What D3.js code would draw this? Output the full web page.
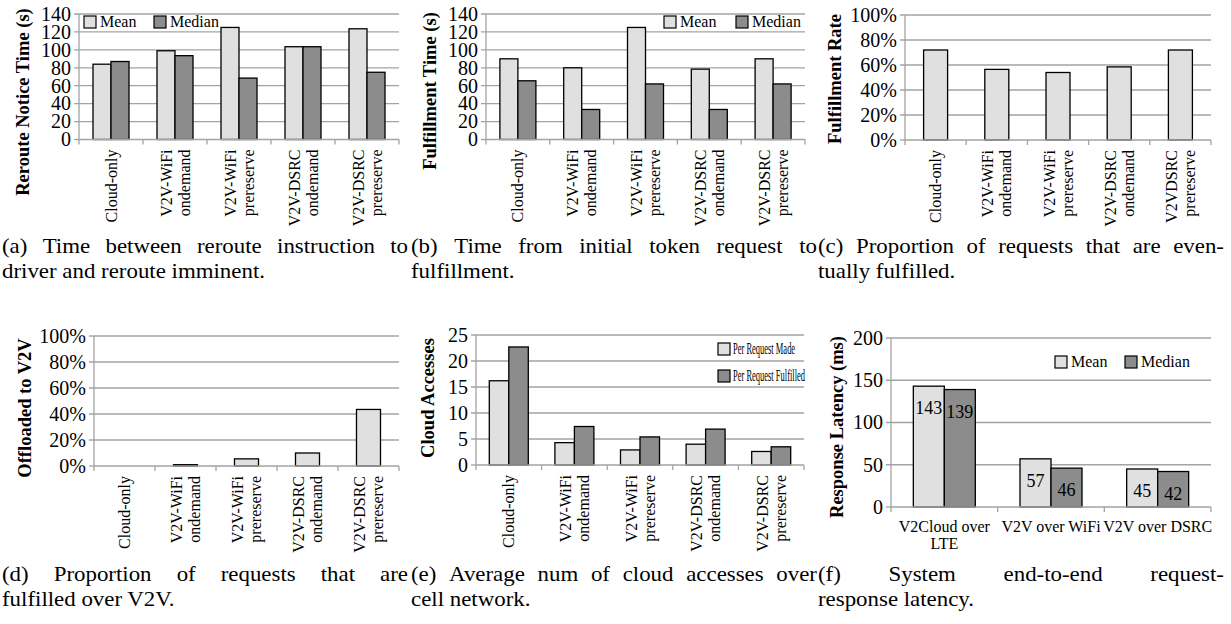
<!DOCTYPE html>
<html><head><meta charset="utf-8">
<script src="https://cdn.jsdelivr.net/npm/d3@7"></script>
<style>
html,body{margin:0;padding:0;background:#fff;}
svg{display:block;}
</style></head>
<body><svg id="fig" width="1231" height="624" font-family="'Liberation Serif', Tinos, 'Times New Roman', Times, 'DejaVu Serif', serif"></svg>
<script>
// ---------- data ----------
const schemes = [["Cloud-only"],["V2V-WiFi","ondemand"],["V2V-WiFi","prereserve"],["V2V-DSRC","ondemand"],["V2V-DSRC","prereserve"]];
const schemesC = [["Cloud-only"],["V2V-WiFi","ondemand"],["V2V-WiFi","prereserve"],["V2V-DSRC","ondemand"],["V2VDSRC","prereserve"]];
const rerouteMean   = [84, 99, 125, 103.5, 123.5];
const rerouteMedian = [87, 93.5, 68.5, 103.5, 75];
const fulfillMean   = [90, 80, 125, 78.5, 90];
const fulfillMedian = [65.5, 33.5, 62, 33.5, 62];
const fulfillRate   = [72, 56.5, 54, 58.5, 72];
const offloadedV2V  = [0, 1, 5.5, 10, 43.5];
const accessPerMade      = [16.2, 4.3, 2.9, 4.0, 2.6];
const accessPerFulfilled = [22.7, 7.4, 5.4, 6.9, 3.5];
const links = [["V2Cloud over","LTE"],["V2V over WiFi"],["V2V over DSRC"]];
const latencyMean   = [143, 57, 45];
const latencyMedian = [139, 46, 42];
const ticks140 = [0,20,40,60,80,100,120,140];
const ticksPct = [0,20,40,60,80,100];
const ticks25  = [0,5,10,15,20,25];
const ticks200 = [0,50,100,150,200];
const captions = [
  ["(a) Time between reroute instruction to","driver and reroute imminent."],
  ["(b) Time from initial token request to","fulfillment."],
  ["(c) Proportion of requests that are even-","tually fulfilled."],
  ["(d) Proportion of requests that are","fulfilled over V2V."],
  ["(e) Average num of cloud accesses over","cell network."],
  ["(f) System end-to-end request-","response latency."]
];
// ---------- styles ----------
const LIGHT = "#e0e0e0", DARK = "#8c8c8c", GRID = "#a3a3a3";
const svg = d3.select("#fig");

function txt(g, x, y, s, o={}){
  const sx = o.sx||1;
  let tr = `translate(${x},${y}) scale(${sx},1)`;
  if(o.rot) tr += ` rotate(${o.rot})`;
  const t = g.append("text").attr("transform",tr)
    .attr("font-size",o.fs||16).attr("text-anchor",o.anchor||"start").text(s);
  if(o.dy) t.attr("dy",o.dy);
  if(o.bold) t.attr("font-weight","bold");
  return t;
}

function panel(cfg){
  const g = svg.append("g");
  const y = d3.scaleLinear().domain([0, cfg.yMax]).range([cfg.yB, cfg.yT]);
  const x = d3.scaleBand().domain(d3.range(cfg.cats.length)).range([cfg.x0, cfg.x1]);
  const bw = x.bandwidth();
  const n = cfg.series.length, gw = n*cfg.barW;
  const xs = d3.scaleBand().domain(d3.range(n)).range([(bw-gw)/2, (bw+gw)/2]);
  g.selectAll(".grid").data(cfg.ticks.slice(1)).join("line")
    .attr("x1", cfg.x0-5).attr("x2", cfg.x1).attr("y1", d=>y(d)).attr("y2", d=>y(d))
    .attr("stroke", GRID).attr("stroke-width", 1.3);
  g.append("line").attr("x1",cfg.x0).attr("x2",cfg.x0).attr("y1",cfg.yT).attr("y2",cfg.yB)
    .attr("stroke",GRID).attr("stroke-width",1.3);
  g.append("line").attr("x1",cfg.x0-5).attr("x2",cfg.x0).attr("y1",cfg.yB).attr("y2",cfg.yB)
    .attr("stroke",GRID).attr("stroke-width",1.3);
  cfg.ticks.forEach(d=> txt(g, cfg.x0-8, y(d), cfg.pct ? d+"%" : String(d), {fs:20, anchor:"end", dy:"0.34em"}));
  cfg.series.forEach((s,si)=>{
    g.selectAll(".b"+si).data(s.values).join("rect")
      .attr("x",(d,i)=>x(i)+xs(si)).attr("width",xs.bandwidth())
      .attr("y",d=>y(d)).attr("height",d=>cfg.yB-y(d))
      .attr("fill",s.color).attr("stroke",d=>d>0?"#000":"none").attr("stroke-width",1.3);
    if(cfg.valueLabels){
      s.values.forEach((d,i)=> txt(g, x(i)+xs(si)+xs.bandwidth()/2, y(d)+22, String(d), {fs:18, anchor:"middle", dy:"0.34em"}));
    }
  });
  g.append("line").attr("x1",cfg.x0).attr("x2",cfg.x1).attr("y1",cfg.yB).attr("y2",cfg.yB)
    .attr("stroke",GRID).attr("stroke-width",1.3);
  const bounds = d3.range(cfg.cats.length+1).map(i=> i<cfg.cats.length ? x(i) : cfg.x1);
  g.selectAll(".xt").data(bounds).join("line")
    .attr("x1",d=>d).attr("x2",d=>d).attr("y1",cfg.yB).attr("y2",cfg.yB+5)
    .attr("stroke",GRID).attr("stroke-width",1.3);
  cfg.cats.forEach((lines,i)=>{
    const cx = x(i)+bw/2;
    if(cfg.horizontal){
      lines.forEach((t,li)=> txt(g, cx, cfg.yB+25+li*17, t, {fs:16, anchor:"middle"}));
    } else {
      const off = lines.length===1 ? [0] : [-9, 9];
      lines.forEach((t,li)=> txt(g, cx+off[li]+5.5, cfg.yB+10, t, {fs:16, anchor:"end", rot:-90}));
    }
  });
  txt(g, cfg.titleX, cfg.titleY, cfg.title, {fs:18.5, anchor:"middle", dy:"0.34em", bold:true, rot:-90});
  if(cfg.legend){
    cfg.legend.forEach((L,li)=>{
      const s = cfg.series[li];
      g.append("rect").attr("x",L[0]).attr("y",L[1]).attr("width",12).attr("height",12)
        .attr("fill",s.color).attr("stroke","#000").attr("stroke-width",1.2);
      txt(g, L[0]+(cfg.legGap||16), L[1]+6, s.name, {fs:cfg.legFs||16, sx:cfg.legSx||1, dy:"0.34em"});
    });
  }
}

panel({x0:79,x1:399,yT:14,yB:139.5,yMax:140,ticks:ticks140,cats:schemes,barW:18,
  series:[{name:"Mean",values:rerouteMean,color:LIGHT},{name:"Median",values:rerouteMedian,color:DARK}],
  title:"Reroute Notice Time (s)",titleX:23,titleY:102,legend:[[84,16],[154,16]]});
panel({x0:486,x1:805,yT:14,yB:139.5,yMax:140,ticks:ticks140,cats:schemes,barW:18,
  series:[{name:"Mean",values:fulfillMean,color:LIGHT},{name:"Median",values:fulfillMedian,color:DARK}],
  title:"Fulfillment Time (s)",titleX:430,titleY:91,legend:[[664,16],[736,16]]});
panel({x0:905,x1:1211,yT:15,yB:140,yMax:100,ticks:ticksPct,pct:true,cats:schemesC,barW:24,
  series:[{name:"Rate",values:fulfillRate,color:LIGHT}],
  title:"Fulfillment Rate",titleX:835,titleY:79});
panel({x0:94,x1:399,yT:336,yB:466,yMax:100,ticks:ticksPct,pct:true,cats:schemes,barW:24,
  series:[{name:"Offloaded",values:offloadedV2V,color:LIGHT}],
  title:"Offloaded to V2V",titleX:25,titleY:408});
panel({x0:476,x1:804,yT:335,yB:465,yMax:25,ticks:ticks25,cats:schemes,barW:19.5,
  series:[{name:"Per Request Made",values:accessPerMade,color:LIGHT},{name:"Per Request Fulfilled",values:accessPerFulfilled,color:DARK}],
  title:"Cloud Accesses",titleX:428,titleY:398,legend:[[718,343],[718,370]],legFs:16,legSx:0.53,legGap:15});
panel({x0:891,x1:1211,yT:338,yB:507,yMax:200,ticks:ticks200,cats:links,barW:31,horizontal:true,valueLabels:true,
  series:[{name:"Mean",values:latencyMean,color:LIGHT},{name:"Median",values:latencyMedian,color:DARK}],
  title:"Response Latency (ms)",titleX:837,titleY:427,legend:[[1055,356],[1125,356]]});

// ---------- captions (first line justified) ----------
const capPos = [[2,253],[411,253],[818,253],[2,581],[411,581],[818,581]];
const COLW = 406, LH = 24.5, CFS = 22, CSX = 1.04;
captions.forEach((lines,ci)=>{
  const [cx,cy] = capPos[ci];
  const words = lines[0].split(" ");
  const widths = words.map(w=>{ const t = svg.append("text").attr("font-size",CFS).text(w); const wl = t.node().getComputedTextLength()*CSX; t.remove(); return wl; });
  const gap = (COLW - d3.sum(widths))/(words.length-1);
  let xx = cx;
  words.forEach((w,wi)=>{ txt(svg, xx, cy, w, {fs:CFS, sx:CSX}); xx += widths[wi] + gap; });
  txt(svg, cx, cy+LH, lines[1], {fs:CFS, sx:CSX});
});
</script></body></html>
